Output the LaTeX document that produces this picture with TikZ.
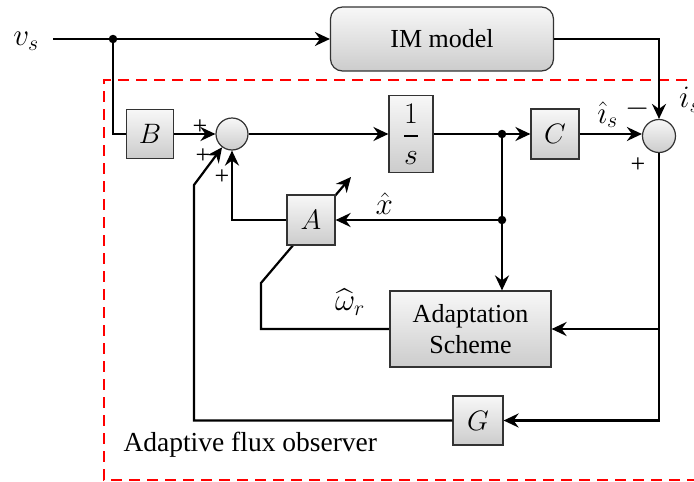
\RequirePackage{fix-cm}
\documentclass[tikz,border=0pt]{standalone}
\usepackage{amsmath}
\usepackage{graphicx}
\usepackage{fontspec}
\setmainfont{Liberation Serif}
\usetikzlibrary{arrows.meta,calc}
\pgfdeclarelayer{bg}
\pgfsetlayers{bg,main}

\begin{document}
\begin{tikzpicture}[x=1pt,y=-1pt,
  font=\fontsize{26}{31}\selectfont,
  big/.style={scale=1.2},
  wire/.style={line width=2.2pt},
  arr/.style={wire,-{Stealth[length=15pt,width=14pt,inset=5pt]}},
  blk/.style={draw=black!80,line width=1.2pt,top color=black!3,bottom color=black!20,inner sep=0pt},
  sumc/.style={blk,circle,minimum size=32pt},
  dotn/.style={circle,fill=black,inner sep=0pt,minimum size=8.5pt},
  sign/.style={inner sep=0pt}]
\useasboundingbox (0,0) rectangle (694,482);

% observer frame
\draw[red,line width=2.6pt,dash pattern=on 11pt off 7pt]
  (705,80) -- (104,80) -- (104,480) -- (705,480);

% blocks
\node[blk,minimum width=223pt,minimum height=64pt,rounded corners=12pt] (im) at (442,39) {IM model};
\node[blk,minimum width=47pt,minimum height=49pt] (B) at (150,134) {\scalebox{1.08}{$B$}};
\node[sumc] (c1) at (232,134) {};
\node[blk,minimum width=44pt,minimum height=77pt] (inv) at (411,134) {\scalebox{1.15}{$\dfrac{1}{s}$}};
\node[blk,minimum width=48pt,minimum height=50pt] (C) at (555,134) {\scalebox{1.08}{$C$}};
\node[sumc,minimum size=33pt] (c2) at (659,136) {};
\node[blk,minimum width=48pt,minimum height=50pt] (A) at (311,220) {\scalebox{1.08}{$A$}};
\node[blk,minimum width=161pt,minimum height=76pt,align=center] (AS) at (470.5,329) {Adaptation\\Scheme};
\node[blk,minimum width=50pt,minimum height=49pt] (G) at (478,420.5) {\scalebox{1.08}{$G$}};

% junction dots and bends
\node[dotn] (d1) at (113,39) {};
\node[dotn] (d2) at (502,134) {};
\node[dotn] (d3) at (502,220) {};
\coordinate (vin) at (53,39);
\coordinate (kG) at (194,185);
\coordinate (kW) at (261,283);
\coordinate (tW) at (351,177);

% signals
\draw[wire] (vin) -- (d1);
\draw[arr] (d1) -- (im.west);
\draw[wire] (d1) |- (B.west);
\draw[arr] (B.east) -- (c1.west);
\draw[arr] (c1.east) -- (inv.west);
\draw[wire] (inv.east) -- (d2);
\draw[arr] (d2) -- (C.west);
\draw[arr] (C.east) -- (C.east -| c2.west) node[pos=0.45,above=1pt,big] {$\hat{\imath}_s$};
\draw[arr] (im.east) -| (c2.north);
\draw[wire] (d2) -- (d3);
\draw[arr] (d3) -- (d3 |- AS.north);
\draw[arr] (d3) -- (A.east) node[pos=0.7,above=0pt,big] {$\hat{x}$};
\draw[arr] (A.west) -| (c1.south);
\draw[arr] (c2.south) |- (AS.east);
\draw[arr] (c2.south) |- (G.east);
\draw[arr] (G.west) -| (kG) -- (c1);
\begin{pgfonlayer}{bg}
  \draw[arr] (AS.west) -| (kW) -- (tW);
\end{pgfonlayer}

% labels
\node[big] (vs) at (26,41) {$v_s$};
\node[big] (wr) at (350,302) {$\widehat{\omega}_r$};
\node[anchor=west,big] (is) at (675,100) {$i_s$};
\node[sign] (p1) at (200,127) {+};
\node[sign] (p2) at (203,156) {+};
\node[sign] (p3) at (222,177) {+};
\node[sign,big] (m1) at (638,109) {$-$};
\node[sign] (p4) at (638,165) {+};
\node[anchor=west,font=\fontsize{27.5}{31}\selectfont] (obs) at (120,445) {Adaptive flux observer};
\end{tikzpicture}
\end{document}
